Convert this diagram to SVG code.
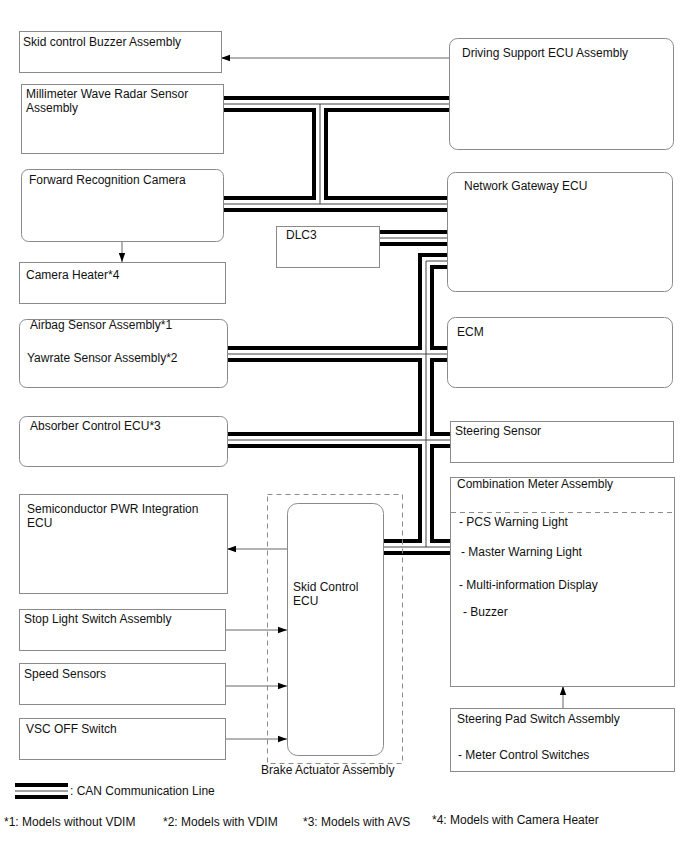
<svg xmlns="http://www.w3.org/2000/svg" width="688" height="852" viewBox="0 0 688 852">
<defs>
<marker id="ah" markerWidth="10" markerHeight="8" refX="9" refY="4" orient="auto" markerUnits="userSpaceOnUse">
<path d="M0,0.8 L9,4 L0,7.2 Z" fill="#000"/>
</marker>
<style>
.box{fill:#fff;stroke:#8a8a8a;stroke-width:1}
.dash{fill:none;stroke:#8a8a8a;stroke-width:1;stroke-dasharray:5,4}
.t{font-family:"Liberation Sans",Arial,sans-serif;font-size:12px;fill:#111}
.arr{fill:none;stroke:#666;stroke-width:1;marker-end:url(#ah)}
.busO{fill:none;stroke:#000;stroke-width:16;stroke-linecap:butt;stroke-linejoin:miter}
.busI{fill:none;stroke:#fff;stroke-width:8;stroke-linecap:butt;stroke-linejoin:miter}
.busC{fill:none;stroke:#444;stroke-width:1;stroke-linecap:butt;stroke-linejoin:miter}
</style>
<g id="busPaths">
<path id="b1" d="M223,104 H449"/>
<path id="b2" d="M223,204 H447"/>
<path id="b3" d="M320,104 V204"/>
<path id="b4" d="M379,238 H447"/>
<path id="b5" d="M447,261 H426 V547"/>
<path id="b6" d="M227,354 H447"/>
<path id="b7" d="M227,440 H450"/>
<path id="b8" d="M383,547 H450"/>
<path id="b9" d="M15,791 H68"/>
</g>
</defs>

<g id="connectors">
<g class="busO"><use href="#b1"/><use href="#b2"/><use href="#b3"/><use href="#b4"/><use href="#b5"/><use href="#b6"/><use href="#b7"/><use href="#b8"/></g>
<g class="busI"><use href="#b1"/><use href="#b2"/><use href="#b3"/><use href="#b4"/><use href="#b5"/><use href="#b6"/><use href="#b7"/><use href="#b8"/></g>
<g class="busC"><use href="#b1"/><use href="#b2"/><use href="#b3"/><use href="#b4"/><use href="#b5"/><use href="#b6"/><use href="#b7"/><use href="#b8"/></g>
<path class="arr" d="M449,58 H221"/>
<path class="arr" d="M122,241 V262"/>
<path class="arr" d="M287,549 H227"/>
<path class="arr" d="M225,630 H287"/>
<path class="arr" d="M225,686 H287"/>
<path class="arr" d="M225,739 H287"/>
<path class="arr" d="M563,708 V686"/>
</g>

<g id="buzzer"><rect class="box" x="19.5" y="31.5" width="202" height="41"/><text class="t" x="23" y="46">Skid control Buzzer Assembly</text></g>
<g id="mmw"><rect class="box" x="21.5" y="84.5" width="202" height="69"/><text class="t" x="26" y="98">Millimeter Wave Radar Sensor</text><text class="t" x="26" y="112">Assembly</text></g>
<g id="camera"><rect class="box" x="21.5" y="169.5" width="202" height="72" rx="7"/><text class="t" x="29" y="184">Forward Recognition Camera</text></g>
<g id="heater"><rect class="box" x="19.5" y="262.5" width="206" height="41"/><text class="t" x="26" y="279">Camera Heater*4</text></g>
<g id="airbag"><rect class="box" x="19.5" y="319.5" width="208" height="68" rx="7"/><text class="t" x="30" y="329">Airbag Sensor Assembly*1</text><text class="t" x="27" y="362">Yawrate Sensor Assembly*2</text></g>
<g id="absorber"><rect class="box" x="19.5" y="416.5" width="208" height="50" rx="7"/><text class="t" x="30" y="430">Absorber Control ECU*3</text></g>
<g id="semi"><rect class="box" x="19.5" y="494.5" width="208" height="99"/><text class="t" x="27" y="513">Semiconductor PWR Integration</text><text class="t" x="27" y="527">ECU</text></g>
<g id="stoplight"><rect class="box" x="19.5" y="609.5" width="206" height="41"/><text class="t" x="24" y="623">Stop Light Switch Assembly</text></g>
<g id="speed"><rect class="box" x="19.5" y="663.5" width="206" height="41"/><text class="t" x="24" y="678">Speed Sensors</text></g>
<g id="vsc"><rect class="box" x="19.5" y="718.5" width="206" height="41"/><text class="t" x="26" y="733">VSC OFF Switch</text></g>
<g id="dlc3"><rect class="box" x="276.5" y="226.5" width="103" height="41"/><text class="t" x="286" y="239">DLC3</text></g>
<g id="driving"><rect class="box" x="449.5" y="38.5" width="224" height="111" rx="8"/><text class="t" x="462" y="57">Driving Support ECU Assembly</text></g>
<g id="gateway"><rect class="box" x="447.5" y="172.5" width="225" height="119" rx="8"/><text class="t" x="464" y="190">Network Gateway ECU</text></g>
<g id="ecm"><rect class="box" x="447.5" y="317.5" width="225" height="70" rx="8"/><text class="t" x="457" y="336">ECM</text></g>
<g id="steering"><rect class="box" x="450.5" y="421.5" width="223" height="41"/><text class="t" x="455" y="435">Steering Sensor</text></g>
<g id="meter"><rect class="box" x="450.5" y="477.5" width="224" height="209"/><line class="dash" x1="451" y1="512.5" x2="674" y2="512.5"/>
<text class="t" x="457" y="488">Combination Meter Assembly</text>
<text class="t" x="459" y="526">- PCS Warning Light</text>
<text class="t" x="461" y="556">- Master Warning Light</text>
<text class="t" x="459" y="589">- Multi-information Display</text>
<text class="t" x="463" y="616">- Buzzer</text></g>
<g id="pad"><rect class="box" x="450.5" y="708.5" width="224" height="63"/><text class="t" x="457" y="723">Steering Pad Switch Assembly</text><text class="t" x="458" y="759">- Meter Control Switches</text></g>
<g id="brake"><rect class="dash" x="267.5" y="494.5" width="135" height="269"/><text class="t" x="261" y="774">Brake Actuator Assembly</text></g>
<g id="skidecu"><rect class="box" x="287.5" y="503.5" width="96" height="252" rx="10"/><text class="t" x="293" y="591">Skid Control</text><text class="t" x="293" y="605">ECU</text></g>

<g id="legend">
<use class="busO" href="#b9"/><use class="busI" href="#b9"/><use class="busC" href="#b9"/>
<text class="t" x="70" y="795">: CAN Communication Line</text>
<text class="t" x="4" y="826">*1: Models without VDIM</text>
<text class="t" x="163" y="826">*2: Models with VDIM</text>
<text class="t" x="303" y="826">*3: Models with AVS</text>
<text class="t" x="432" y="824">*4: Models with Camera Heater</text>
</g>
</svg>
